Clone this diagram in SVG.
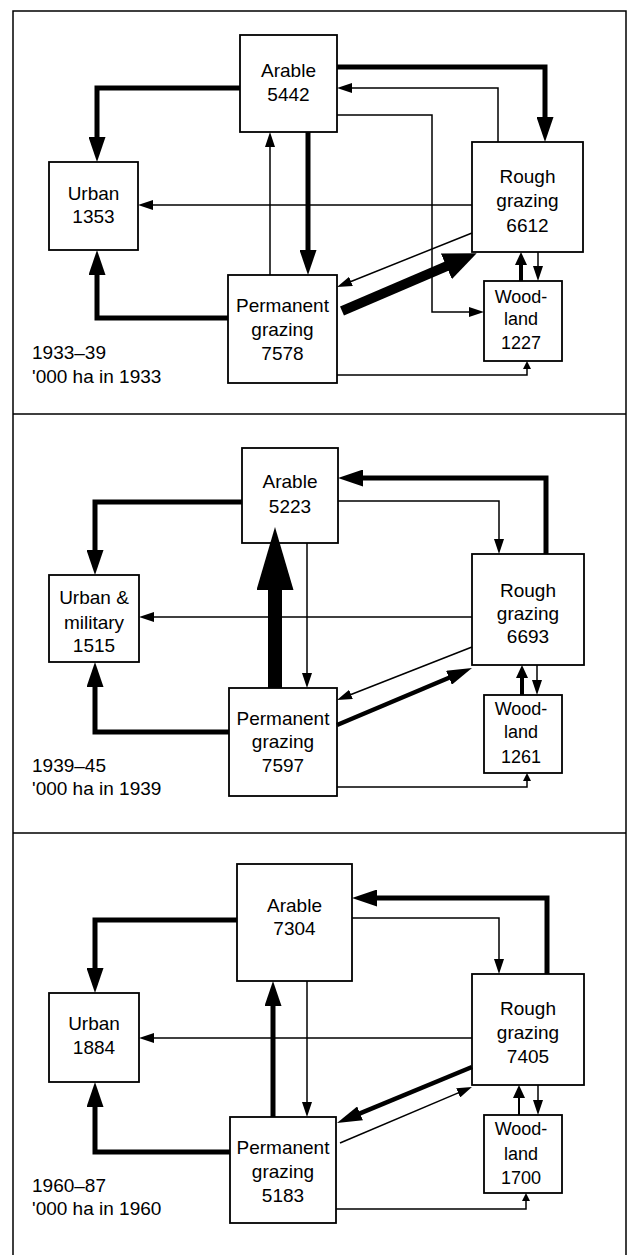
<svg xmlns="http://www.w3.org/2000/svg" width="634" height="1255" viewBox="0 0 634 1255">
<style>
.bx{fill:#fff;stroke:#000;stroke-width:1.8}
.t{font-family:"Liberation Sans",Arial,Helvetica,sans-serif;font-size:19px;text-anchor:middle;fill:#000}
.w{font-size:18px}
.lb{font-family:"Liberation Sans",Arial,Helvetica,sans-serif;font-size:19px;fill:#000}
.c path{fill:none;stroke:#000;stroke-linejoin:miter}
.th{stroke-width:1.5}
.tk{stroke-width:5}
.fr{fill:none;stroke:#000;stroke-width:1.5}
</style>
<defs>
<marker id="ah" viewBox="0 0 25 17" markerWidth="25" markerHeight="17" refX="2" refY="8.5" orient="auto" markerUnits="userSpaceOnUse"><path d="M0,0 L25,8.5 L0,17 z"/></marker>
<marker id="as" viewBox="0 0 15 10" markerWidth="15" markerHeight="10" refX="2" refY="5" orient="auto" markerUnits="userSpaceOnUse"><path d="M0,0 L15,5 L0,10 z"/></marker>
<marker id="am" viewBox="0 0 13 12" markerWidth="13" markerHeight="12" refX="2" refY="6" orient="auto" markerUnits="userSpaceOnUse"><path d="M0,0 L13,6 L0,12 z"/></marker>
<marker id="at" viewBox="0 0 8 8" markerWidth="8" markerHeight="8" refX="1" refY="4" orient="auto" markerUnits="userSpaceOnUse"><path d="M0,0 L8,4 L0,8 z"/></marker>
<marker id="ad" viewBox="0 0 25 15" markerWidth="25" markerHeight="15" refX="2" refY="7.5" orient="auto" markerUnits="userSpaceOnUse"><path d="M0,0 L25,7.5 L0,15 z"/></marker>
<marker id="ab" viewBox="0 0 33 28" markerWidth="33" markerHeight="28" refX="2" refY="14" orient="auto" markerUnits="userSpaceOnUse"><path d="M0,0 L33,14 L0,28 z"/></marker>
<marker id="ahu" viewBox="0 0 63 37" markerWidth="63" markerHeight="37" refX="2" refY="18.5" orient="auto" markerUnits="userSpaceOnUse"><path d="M0,0 L63,18.5 L0,37 z"/></marker>
</defs>
<rect width="634" height="1255" fill="#fff"/>
<g id="frame">
<path class="fr" d="M13,1255 V11 H626 V1255"/>
<path class="fr" d="M13,414 H626 M13,833 H626"/>
</g>
<!-- panel 1 nodes -->
<g id="p1-arable"><rect class="bx" x="240" y="35" width="97" height="97"/><text class="t" x="288.5" y="77">Arable</text><text class="t" x="288.5" y="101">5442</text></g>
<g id="p1-urban"><rect class="bx" x="49" y="162" width="89" height="88"/><text class="t" x="93.5" y="200">Urban</text><text class="t" x="93.5" y="223">1353</text></g>
<g id="p1-permanent"><rect class="bx" x="228" y="275" width="109" height="108"/><text class="t" x="282.5" y="312">Permanent</text><text class="t" x="282.5" y="336">grazing</text><text class="t" x="282.5" y="360">7578</text></g>
<g id="p1-rough"><rect class="bx" x="472" y="142" width="111" height="110"/><text class="t" x="527.5" y="183">Rough</text><text class="t" x="527.5" y="207">grazing</text><text class="t" x="527.5" y="232">6612</text></g>
<g id="p1-woodland"><rect class="bx" x="484" y="281" width="78" height="80"/><text class="t w" x="521" y="303">Wood-</text><text class="t w" x="521" y="325">land</text><text class="t w" x="521" y="349">1227</text></g>
<g id="p1-label"><text class="lb" x="32" y="359">1933–39</text><text class="lb" x="32" y="383">'000 ha in 1933</text></g>
<!-- panel 2 nodes -->
<g id="p2-arable"><rect class="bx" x="242" y="448" width="96" height="95"/><text class="t" x="290" y="488">Arable</text><text class="t" x="290" y="513">5223</text></g>
<g id="p2-urban"><rect class="bx" x="49" y="575" width="90" height="87"/><text class="t" x="94" y="604">Urban &amp;</text><text class="t" x="94" y="629">military</text><text class="t" x="94" y="652">1515</text></g>
<g id="p2-permanent"><rect class="bx" x="229" y="688" width="108" height="108"/><text class="t" x="283" y="725">Permanent</text><text class="t" x="283" y="748">grazing</text><text class="t" x="283" y="772">7597</text></g>
<g id="p2-rough"><rect class="bx" x="472" y="554" width="112" height="111"/><text class="t" x="528" y="597">Rough</text><text class="t" x="528" y="620">grazing</text><text class="t" x="528" y="643">6693</text></g>
<g id="p2-woodland"><rect class="bx" x="484" y="695" width="78" height="78"/><text class="t w" x="521" y="715">Wood-</text><text class="t w" x="521" y="738">land</text><text class="t w" x="521" y="763">1261</text></g>
<g id="p2-label"><text class="lb" x="32" y="772">1939–45</text><text class="lb" x="32" y="795">'000 ha in 1939</text></g>
<!-- panel 3 nodes -->
<g id="p3-arable"><rect class="bx" x="237" y="864" width="115" height="117"/><text class="t" x="294.5" y="912">Arable</text><text class="t" x="294.5" y="935">7304</text></g>
<g id="p3-urban"><rect class="bx" x="49" y="993" width="90" height="89"/><text class="t" x="94" y="1030">Urban</text><text class="t" x="94" y="1054">1884</text></g>
<g id="p3-permanent"><rect class="bx" x="230" y="1117" width="106" height="106"/><text class="t" x="283" y="1154">Permanent</text><text class="t" x="283" y="1178">grazing</text><text class="t" x="283" y="1202">5183</text></g>
<g id="p3-rough"><rect class="bx" x="472" y="974" width="112" height="111"/><text class="t" x="528" y="1015">Rough</text><text class="t" x="528" y="1039">grazing</text><text class="t" x="528" y="1063">7405</text></g>
<g id="p3-woodland"><rect class="bx" x="484" y="1115" width="78" height="78"/><text class="t w" x="521" y="1135">Wood-</text><text class="t w" x="521" y="1160">land</text><text class="t w" x="521" y="1184">1700</text></g>
<g id="p3-label"><text class="lb" x="32" y="1192">1960–87</text><text class="lb" x="32" y="1215">'000 ha in 1960</text></g>
<g id="connectors" class="c">
<!-- panel 1 -->
<path class="tk" d="M240,88 H97 V139" marker-end="url(#ah)"/>
<path class="tk" d="M337,67 H545 V119" marker-end="url(#ah)"/>
<path class="th" d="M498,142 V88 H350" marker-end="url(#as)"/>
<path class="th" d="M337,115 H432 V312 H471" marker-end="url(#as)"/>
<path class="th" d="M472,205 H151" marker-end="url(#as)"/>
<path class="th" d="M270,275 V145" marker-end="url(#as)"/>
<path class="tk" d="M308,132 V252" marker-end="url(#ah)"/>
<path class="tk" d="M228,318 H97 V273" marker-end="url(#ah)"/>
<path class="th" d="M472,233 L349.1,282.2" marker-end="url(#as)"/>
<path style="stroke-width:10" d="M342,311 L448.2,265.5" marker-end="url(#ab)"/>
<path class="th" d="M337,375 H527 V368" marker-end="url(#at)"/>
<path style="stroke-width:4" d="M521,281 V263" marker-end="url(#am)"/>
<path class="th" d="M538,252 V268" marker-end="url(#as)"/>
<!-- panel 2 -->
<path class="tk" d="M242,502 H95 V552" marker-end="url(#ah)"/>
<path class="tk" d="M546,554 V478 H361" marker-end="url(#ah)"/>
<path class="th" d="M338,501 H499 V541" marker-end="url(#as)"/>
<path style="stroke-width:14" d="M275,688 V588" marker-end="url(#ahu)"/>
<path class="th" d="M307,543 V675" marker-end="url(#as)"/>
<path class="th" d="M472,617 H152" marker-end="url(#as)"/>
<path class="tk" d="M229,732 H95 V685" marker-end="url(#ah)"/>
<path class="th" d="M472,647 L349.1,695.2" marker-end="url(#as)"/>
<path style="stroke-width:4.5" d="M337,725 L450.8,677" marker-end="url(#ad)"/>
<path class="th" d="M337,787 H527 V780" marker-end="url(#at)"/>
<path style="stroke-width:4" d="M522,695 V676" marker-end="url(#am)"/>
<path class="th" d="M537,665 V682" marker-end="url(#as)"/>
<!-- panel 3 -->
<path class="tk" d="M237,920 H95 V970" marker-end="url(#ah)"/>
<path class="tk" d="M547,974 V898 H375" marker-end="url(#ah)"/>
<path class="th" d="M352,918 H499 V961" marker-end="url(#as)"/>
<path class="tk" d="M273,1117 V1004" marker-end="url(#ah)"/>
<path class="th" d="M307,981 V1104" marker-end="url(#as)"/>
<path class="th" d="M472,1038 H152" marker-end="url(#as)"/>
<path class="tk" d="M230,1152 H95 V1105" marker-end="url(#ah)"/>
<path style="stroke-width:4.5" d="M472,1067 L358.2,1114.2" marker-end="url(#ad)"/>
<path class="th" d="M340,1143 L460,1092.1" marker-end="url(#as)"/>
<path class="th" d="M336,1209 H526 V1200" marker-end="url(#at)"/>
<path style="stroke-width:2" d="M519,1115 V1096" marker-end="url(#am)"/>
<path class="th" d="M538,1085 V1102" marker-end="url(#as)"/>
</g>
</svg>
